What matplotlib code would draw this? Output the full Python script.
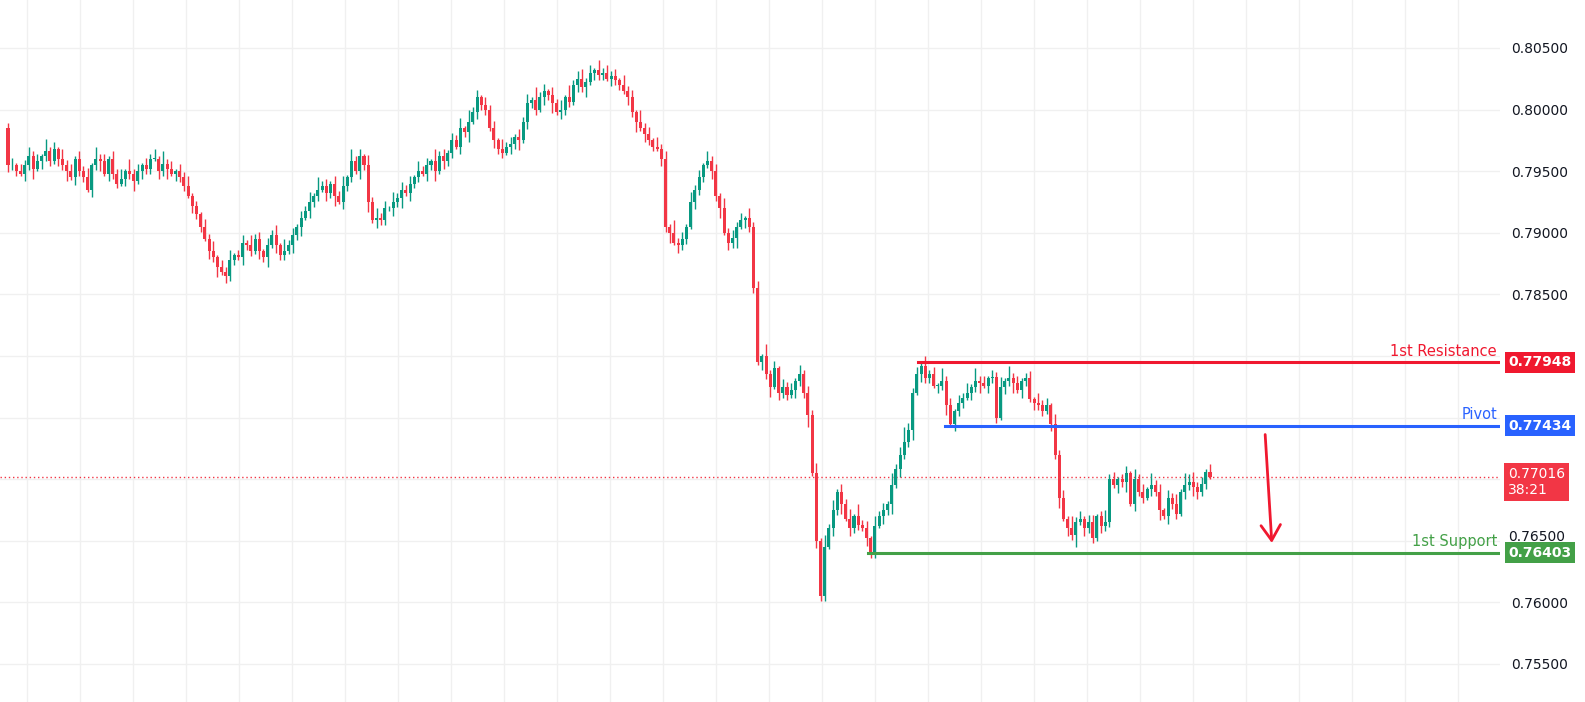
import matplotlib
matplotlib.use("Agg")
import matplotlib.pyplot as plt
from matplotlib.patches import Rectangle

open0 = 7985
closes = [
 7955,7955,7950,7948,7955,7962,7952,7958,7962,7966,7958,7968,7960,7955,7950,7945,7960,7950,7945,7935,7955,7960,7958,7948,7960,7948,7940,7944,7950,7948,7942,7950,7955,7952,7960,7960,7950,7956,7952,7948,7950,
 7945,7938,7930,7922,7915,7905,7895,7885,7880,7872,
 7868,7865,7878,7882,7880,7892,7890,7885,7895,7885,7880,7890,7898,7890,7882,
 7885,7890,7898,7905,7912,7918,7925,7930,7935,7938,7932,7940,7930,7925,7938,7945,7958,7950,
 7962,7955,7925,7910,7912,7910,7920,
 7920,7925,7928,7935,7932,7940,7945,7950,7948,7955,7958,7950,7962,7958,7965,7975,7970,7985,7982,7990,7998,8010,8004,
 8000,7985,7975,7968,7965,7970,7972,7978,7975,
 7990,8005,8008,8000,8010,8015,8012,8005,7998,8000,8010,8006,8020,8025,8018,8022,
 8030,8032,8028,8030,8025,8027,8024,8020,8015,
 8010,7998,7990,7985,7980,7975,7970,7968,
 7960,7905,7900,7892,
 7890,7895,7905,7925,7935,7945,7955,
 7958,7950,7930,7920,7900,7892,
 7896,7905,7910,7912,7905,
 7855,7795,7800,7785,7775,7790,7770,7775,7768,7772,7780,7785,7770,
 7752,7705,7650,7605,7645,
 7660,7675,7690,7680,7668,7660,7670,7663,7660,7652,7640,7662,
 7670,7675,7680,7695,7708,7720,7730,7740,7770,7785,7792,7782,
 7785,7776,7776,7780,7760,7745,7755,7762,7766,7770,7775,7780,7778,7776,7782,7783,7750,7775,7780,7782,7778,7772,7780,7782,7765,7762,7760,
 7755,7760,7745,7720,7685,7668,7660,
 7655,7665,7668,7660,7665,7652,7670,7662,7665,
 7700,7695,7700,7698,7705,7680,7700,
 7690,7685,7692,7695,7690,7675,7670,7685,7680,7672,7690,7695,7698,7694,7690,7696,7706,7702,
]
# wick lengths in units of 0.0002
upper_wick = ("2313242315231423132415231324152313241523" "13241"
              "2132413241" "231423132415231" "324152313241523142" "4231423"
              "23142315231324152313" "231423132" "4152313241523" "4231423" "23142315"
              "2314" "2315231" "423142" "31423" "2314231523132"
              "31423" "241524132415" "231423152363" "231423152313241523132415231"
              "2314231" "423152313" "3125231" "231423152313241534")
lower_wick = ("3221324132213241322132413221324132213241" "32213"
              "2213241322" "132213241322132" "413221324132213241" "3221324"
              "13221324132213241322" "132213241" "3221324132213" "2413221" "32213241"
              "3221" "3241322" "132213" "24132" "4132213241322"
              "13225" "132213241322" "132213241322" "413221324132213241322132413"
              "2132213" "241325132" "2132213" "241322132413221324")

GREEN, RED = "#089981", "#f23645"
scale = 1e-4
wick_unit = 2e-4

fig = plt.figure(figsize=(15.85, 7.02), dpi=100)
ax = fig.add_axes([0, 0, 1500/1585, 1])
N = len(closes)
x0_px, step_px = 8, (1210 - 8) / (N - 1)
xmin = -x0_px / step_px
xmax = xmin + 1500 / step_px
ax.set_xlim(xmin, xmax)
ytop = 0.805 + 48 / 12320
ax.set_ylim(ytop - 702 / 12320, ytop)

prev = open0
for i, c in enumerate(closes):
    o = prev
    uw = int(upper_wick[i % len(upper_wick)])
    lw = int(lower_wick[i % len(lower_wick)])
    hi = max(o, c) * scale + uw * wick_unit
    lo = min(o, c) * scale - lw * wick_unit
    col = GREEN if c >= o else RED
    ax.vlines(i, lo, hi, color=col, lw=1, zorder=3)
    b0, b1 = min(o, c) * scale, max(o, c) * scale
    if b1 - b0 < 0.00004:
        b1 = b0 + 0.00004
    ax.add_patch(Rectangle((i - 0.36, b0), 0.72, b1 - b0, color=col, lw=0, zorder=4))
    prev = c

for v in [0.755, 0.76, 0.765, 0.77, 0.775, 0.78, 0.785, 0.79, 0.795, 0.80, 0.805]:
    ax.axhline(v, color="#f0f0f0", lw=1, zorder=0)
for xp in range(27, 1500, 53):
    ax.axvline(xmin + xp / step_px, color="#f0f0f0", lw=1, zorder=0)

def idx(px):
    return xmin + px / step_px

res, piv, sup, last = 0.77948, 0.77434, 0.76403, 0.77016
ax.plot([idx(918), xmax], [res, res], color="#f0182f", lw=2.2, zorder=5)
ax.plot([idx(945), xmax], [piv, piv], color="#2962ff", lw=2.2, zorder=5)
ax.plot([idx(868), xmax], [sup, sup], color="#43a047", lw=2.2, zorder=5)
ax.axhline(last, color=RED, lw=1, ls=(0, (1, 2)), zorder=2)

ax.text(idx(1497), res + 0.0003, "1st Resistance", color="#f0182f", ha="right", va="bottom", fontsize=10.5)
ax.text(idx(1497), piv + 0.0003, "Pivot", color="#2962ff", ha="right", va="bottom", fontsize=10.5)
ax.text(idx(1497), sup + 0.0003, "1st Support", color="#43a047", ha="right", va="bottom", fontsize=10.5)

ax.annotate("", xy=(idx(1272), 0.7646), xytext=(idx(1265), 0.77385),
            arrowprops=dict(arrowstyle="->,head_length=1.1,head_width=0.7", color="#f0182f", lw=2))

for s in ax.spines.values():
    s.set_visible(False)
ax.set_xticks([])
ax.yaxis.tick_right()
ticks = [0.755, 0.76, 0.785, 0.79, 0.795, 0.80, 0.805]
ax.set_yticks(ticks)
ax.set_yticklabels([f"{t:.5f}" for t in ticks], fontsize=10, color="#131722")
ax.tick_params(axis="y", length=0, pad=8)
ax.text(1.0 + 8/1500, 0.7653, "0.76500", transform=ax.get_yaxis_transform(), ha="left",
        va="center", fontsize=10, color="#131722")

def tag(y, txt, col):
    ax.text(1.0 + 8/1500, y, txt, transform=ax.get_yaxis_transform(), ha="left", va="center",
            color="white", fontsize=10, fontweight="bold",
            bbox=dict(boxstyle="square,pad=0.25", fc=col, ec="none"), zorder=10, clip_on=False)
tag(res, "0.77948", "#f0182f")
tag(piv, "0.77434", "#2962ff")
tag(sup, "0.76403", "#43a047")
ax.text(1.0 + 8/1500, last - 0.0004, "0.77016\n38:21", transform=ax.get_yaxis_transform(),
        ha="left", va="center", color="white", fontsize=10, linespacing=1.2,
        bbox=dict(boxstyle="square,pad=0.3", fc=RED, ec="none"), zorder=10, clip_on=False)

fig.savefig("out.png", dpi=100, facecolor="white")
